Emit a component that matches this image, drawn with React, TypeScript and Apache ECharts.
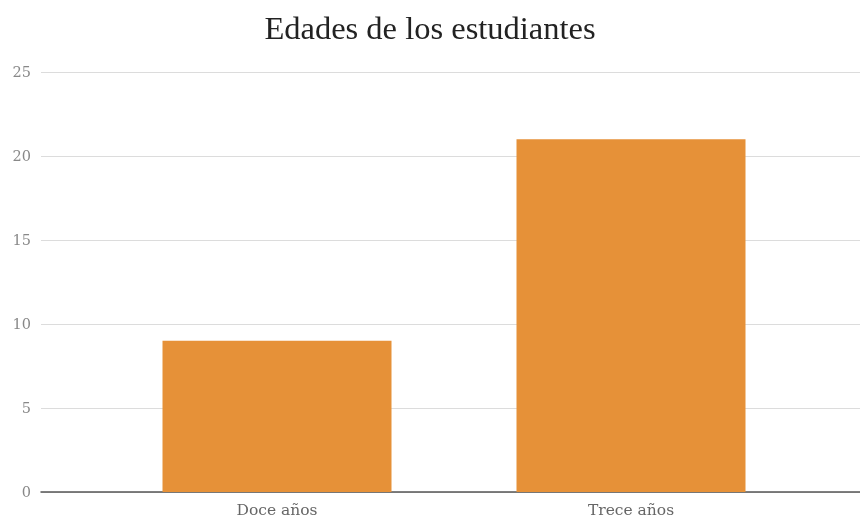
import React, { useEffect, useRef } from "react";
import * as echarts from "echarts";

const categories = ["Doce años", "Trece años"];
const values = [9, 21];
const yTicks = { min: 0, max: 25, interval: 5 };
const title = "Edades de los estudiantes";

export default function App() {
  const ref = useRef<HTMLDivElement>(null);
  useEffect(() => {
    if (!ref.current) return;
    const chart = echarts.init(ref.current, null, { renderer: "svg" });
    const serif = "'DejaVu Serif', 'Liberation Serif', Georgia, serif";
    const titleSerif = "'Liberation Serif', 'DejaVu Serif', serif";
    chart.setOption({
      animation: false,
      title: {
        text: title,
        left: "center",
        top: 6,
        textStyle: { fontFamily: titleSerif, fontSize: 32.5, fontWeight: "normal", color: "#222" },
      },
      grid: [
        { left: 41, right: 0, top: 72, bottom: 28 },
        { left: 100, right: 52, top: 72, bottom: 28 },
      ],
      xAxis: [
        {
          type: "category",
          gridIndex: 0,
          data: [""],
          axisLine: { show: true, lineStyle: { color: "#555", width: 1.5 } },
          axisTick: { show: false },
          axisLabel: { show: false },
        },
        {
          type: "category",
          gridIndex: 1,
          data: categories,
          axisLine: { show: false },
          axisTick: { show: false },
          axisLabel: { fontFamily: serif, fontSize: 15.5, color: "#666", margin: 10 },
        },
      ],
      yAxis: [
        {
          type: "value",
          gridIndex: 0,
          min: yTicks.min,
          max: yTicks.max,
          interval: yTicks.interval,
          axisLine: { show: false },
          axisTick: { show: false },
          axisLabel: { fontFamily: serif, fontSize: 14.5, color: "#888", margin: 10 },
          splitLine: { lineStyle: { color: "#dcdcdc", width: 1 } },
        },
        {
          type: "value",
          gridIndex: 1,
          min: yTicks.min,
          max: yTicks.max,
          interval: yTicks.interval,
          show: false,
          splitLine: { show: false },
        },
      ],
      series: [
        {
          type: "bar",
          xAxisIndex: 1,
          yAxisIndex: 1,
          data: values,
          barWidth: 229,
          itemStyle: { color: "#E69138" },
          z: 1,
        },
      ],
    });
    return () => chart.dispose();
  }, []);
  return (
    <div
      ref={ref}
      style={{ position: "fixed", left: 0, top: 0, width: 860, height: 520 }}
    />
  );
}
